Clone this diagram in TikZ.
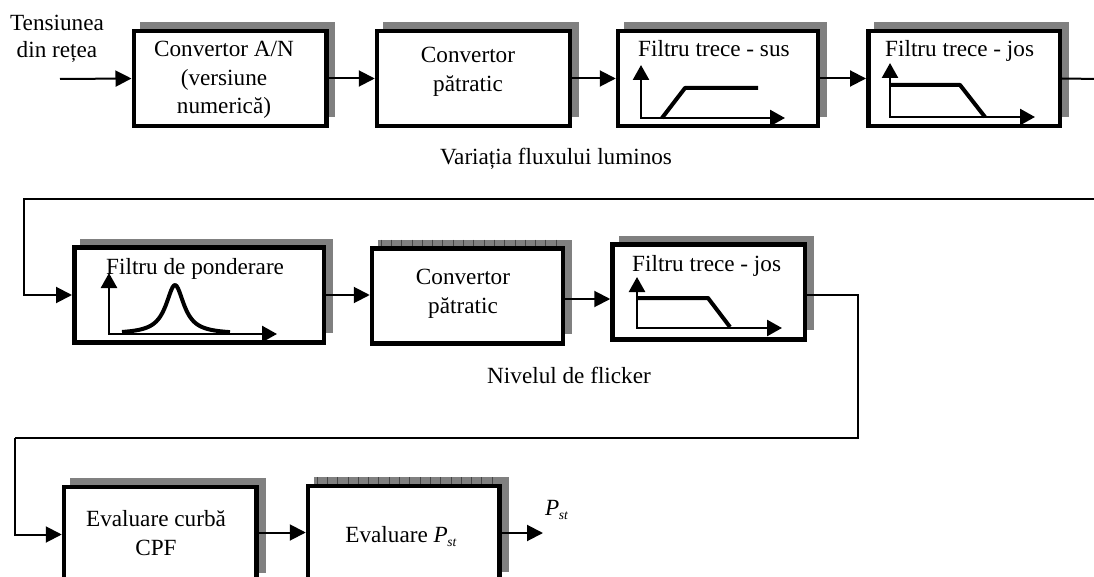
\documentclass[tikz,border=0pt]{standalone}
\usepackage{fontspec}
\setmainfont{Liberation Serif}
\usetikzlibrary{arrows.meta}
\newcommand{\Pst}{\textit{P}\kern-0.5pt\raisebox{-0.45ex}{\fontsize{13.5}{13.5}\selectfont\textit{st}}}
% name, cx, cy, w, h
\newcommand{\mkbox}[5]{%
  \fill[shadowc] ({#2-#4/2+6},{#3-#5/2-9}) rectangle ({#2+#4/2+9},{#3+#5/2-9});
  \node[blk, minimum width=#4pt, minimum height=#5pt] (#1) at (#2,#3) {};
}
% cx, cy, w, h
\newcommand{\hatchtop}[4]{%
  \foreach \k in {0,...,17} {\draw[tickl] ({#1-#3/2+9+\k*10.3},{#2-#4/2-9}) -- ++(0,6.5);}
}
\begin{document}
\begin{tikzpicture}[x=1pt,y=-1pt,
  blk/.style={draw, line width=4.5pt, fill=white, inner sep=0pt},
  shadowc/.style={gray},
  tickl/.style={draw=gray!55!black, line width=0.8pt},
  conn/.style={line width=2pt, -{Triangle[length=16pt,width=16pt]}},
  thinconn/.style={line width=1.6pt},
  axes/.style={line width=2.5pt, {Triangle[length=15pt,width=16pt]}-{Triangle[length=15pt,width=16pt]}},
  crv/.style={line width=4pt, line join=round},
  lbl/.style={font=\fontsize{23.2}{28.5}\selectfont, inner sep=0pt, align=center},
]
\useasboundingbox (0,0) rectangle (1094,577);
\clip (0,0) rectangle (1094,577);

% ---------- row 1 ----------
\mkbox{b1}{230}{78.5}{192.5}{95}
\mkbox{b2}{473.5}{78.5}{193}{95}
\mkbox{b3}{718}{78.5}{200}{95}
\mkbox{b4}{964}{78.5}{191.5}{95}

\node[lbl, font=\fontsize{23.2}{27}\selectfont] (t0) at (57,39) {Tensiunea\\din rețea};
\node[lbl] (t1) at (224,80) {Convertor A/N\\(versiune\\numerică)};
\node[lbl] (t2) at (468,72) {Convertor\\pătratic};
\node[lbl, anchor=base west] (t3) at (638,57) {Filtru trece - sus};
\node[lbl, anchor=base west] (t4) at (885,57) {Filtru trece - jos};
\node[lbl, anchor=base] (lv) at (556,165) {Variația fluxului luminos};

% high-pass sketch
\draw[axes] (641,65) -- (641,118) -- (785,118);
\draw[crv] (662,118) -- (685,88) -- (758,88);
% low-pass sketch
\draw[axes] (890,63) -- (890,117) -- (1035,117);
\draw[crv] (890,85) -- (960,85) -- (985,117);

\coordinate (in) at (60,79);
\draw[conn] (in) -- (b1.west);
\draw[conn] (b1.east) -- (b2.west);
\draw[conn] (b2.east) -- (b3.west);
\draw[conn] (b3.east) -- (b4.west);
\coordinate (e1) at (1100,79);
\draw[line width=2pt] (b4.east) -- (e1);

% ---------- row 2 ----------
\mkbox{b5}{199}{295}{249.5}{94.5}
\mkbox{b6}{467.5}{296}{191}{94.5}
\hatchtop{467.5}{296}{191}{94.5}
\node[blk, minimum width=191pt, minimum height=94.5pt] (b6) at (467.5,296) {};
\mkbox{b7}{708.75}{292}{192.5}{94.5}

\node[lbl, anchor=base west] (t5) at (106,274) {Filtru de ponderare};
\node[lbl] (t6) at (463,294) {Convertor\\pătratic};
\node[lbl, anchor=base west] (t7) at (632,272) {Filtru trece - jos};
\node[lbl, anchor=base west] (ln) at (487,383) {Nivelul de flicker};

% weighting filter sketch
\draw[axes] (109,273) -- (109,334) -- (277,334);
\draw[crv] plot[domain=122:230, samples=80, smooth] (\x, {334-49/(1+((\x-175)/11)^2)});
% low-pass sketch
\draw[axes] (637,277) -- (637,328) -- (782,328);
\draw[crv] (637,298) -- (708,298) -- (730,327);

\coordinate (c1) at (1100,199);
\coordinate (k1) at (24,199);
\draw[conn] (c1) -- (k1) |- (b5.west);
\draw[conn] (b5.east) -- (b5.east -| b6.west);
\draw[conn] ([yshift=-3pt]b6.east) -- ([yshift=-3pt]b6.east -| b7.west);
\coordinate (k2) at (858,295);
\coordinate (k3) at (858,438);
\coordinate (k4) at (15,438);

% ---------- row 3 ----------
\mkbox{b8}{160.25}{534.5}{192.5}{95}
\mkbox{b9}{403.75}{533.5}{191.5}{95}
\hatchtop{403.75}{533.5}{191.5}{95}
\node[blk, minimum width=191.5pt, minimum height=95pt] (b9) at (403.75,533.5) {};

\node[lbl] (t8) at (156,533) {Evaluare curbă\\CPF};
\node[lbl, anchor=base] (t9) at (401,542) {Evaluare \Pst};
\node[lbl, anchor=base west] (lp) at (545,515) {\Pst};

\draw[thinconn] ([yshift=-3pt]b7.east) -- (k2) -- (k3) -- (k4);
\draw[conn] (k4) |- (b8.west);
\draw[conn] ([yshift=2pt]b8.east) -- ([yshift=2pt]b8.east -| b9.west);
\coordinate (out) at (543,533);
\draw[conn] (b9.east |- out) -- (out);
\end{tikzpicture}
\end{document}
